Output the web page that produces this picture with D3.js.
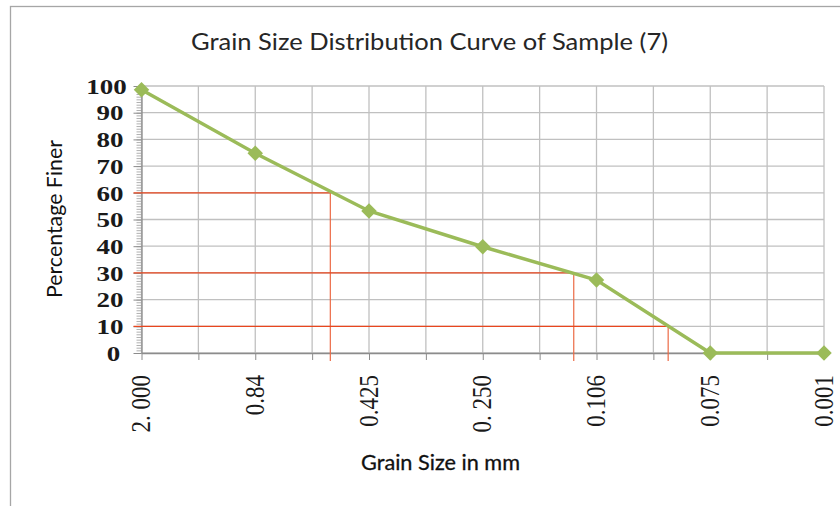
<!DOCTYPE html>
<html>
<head>
<meta charset="utf-8">
<script src="https://cdn.jsdelivr.net/npm/d3@7"></script>
<style>
  body { margin: 0; background: #fff; }
</style>
</head>
<body>
<script>
// grain sizes (category labels, as printed) and percent finer
var sizes = ["2. 000", "0.84", "0.425", "0. 250", "0.106", "0.075", "0.001"];
var finer = [98.6, 74.8, 53.2, 39.8, 27.3, 0, 0];
var yTicks = [0, 10, 20, 30, 40, 50, 60, 70, 80, 90, 100];

// D60 / D30 / D10 guide lines: percent value and where they meet the curve (category index)
var guideValues = [60, 30, 10];
var guideAt = [1.66, 3.80, 4.63];

var svg = d3.select('body').append('svg')
  .attr('width', 840)
  .attr('height', 506);

var x = d3.scaleLinear().domain([0, sizes.length - 1]).range([141.5, 824]);
var y = d3.scaleLinear().domain([0, 100]).range([353, 86]);

// outer chart frame
svg.append('rect')
  .attr('x', 10.5)
  .attr('y', 6.5)
  .attr('width', 840)
  .attr('height', 510)
  .attr('fill', '#fff')
  .attr('stroke', '#a6a6a6')
  .attr('stroke-width', 1.3);

// grid
var half = d3.range(0, sizes.length - 0.5, 0.5);

svg.append('g').selectAll('line.v')
  .data(half)
  .enter().append('line')
  .attr('x1', d => x(d))
  .attr('x2', d => x(d))
  .attr('y1', y(100))
  .attr('y2', y(0))
  .attr('stroke', '#c0c0c0')
  .attr('stroke-width', 1.3);

svg.append('g').selectAll('line.h')
  .data(yTicks)
  .enter().append('line')
  .attr('x1', x(0))
  .attr('x2', x(sizes.length - 1))
  .attr('y1', d => y(d))
  .attr('y2', d => y(d))
  .attr('stroke', '#c0c0c0')
  .attr('stroke-width', 1.3);

// y axis: major + minor ticks
var yMinor = svg.append('g')
  .attr('transform', 'translate(' + x(0) + ',0)')
  .call(d3.axisLeft(y).tickValues(d3.range(0, 101, 1)).tickSize(5).tickSizeOuter(0).tickFormat(''));
yMinor.selectAll('line').attr('stroke', '#b0b0b0');
yMinor.select('.domain').remove();

var yAxis = svg.append('g')
  .attr('transform', 'translate(' + x(0) + ',0)')
  .call(d3.axisLeft(y).tickValues(yTicks).tickSize(8).tickSizeOuter(0));
yAxis.select('.domain').attr('stroke', '#8c8c8c').attr('stroke-width', 1.3);
yAxis.selectAll('line').attr('stroke', '#8c8c8c');
yAxis.selectAll('text')
  .attr('x', function(d) {
    var n = String(d).length;
    return (117 - 3.5 * n) - x(0) - n * 13.5 / 2;
  })
  .attr('dy', '0.36em')
  .attr('text-anchor', 'start')
  .attr('font-family', '"Liberation Serif", "Times New Roman", serif')
  .attr('font-weight', 'bold')
  .attr('font-size', 20)
  .attr('fill', '#1a1a1a')
  .attr('textLength', d => String(d).length * 13.5)
  .attr('lengthAdjust', 'spacingAndGlyphs');

// x axis ticks at every half step
var xAxis = svg.append('g')
  .attr('transform', 'translate(0,' + y(0) + ')')
  .call(d3.axisBottom(x).tickValues(half).tickSize(7).tickSizeOuter(0).tickFormat(''));
xAxis.select('.domain').attr('stroke', '#8c8c8c').attr('stroke-width', 1.3);
xAxis.selectAll('line').attr('stroke', '#8c8c8c');

// category labels, rotated
svg.append('g').selectAll('text')
  .data(sizes)
  .enter().append('text')
  .attr('transform', (d, i) => 'translate(' + x(i) + ',375) rotate(-90) scale(1,1.15)')
  .attr('dy', '0.33em')
  .attr('text-anchor', 'end')
  .attr('font-family', '"Liberation Serif", "Times New Roman", serif')
  .attr('font-size', 23)
  .attr('fill', '#1a1a1a')
  .text(d => d);

// guide lines
guideValues.forEach(function(v, i) {
  svg.append('line')
    .attr('x1', x(0) - 8)
    .attr('x2', x(guideAt[i]))
    .attr('y1', y(v))
    .attr('y2', y(v))
    .attr('stroke', '#e8461e')
    .attr('stroke-width', 1.2);
  svg.append('line')
    .attr('x1', x(guideAt[i]))
    .attr('x2', x(guideAt[i]))
    .attr('y1', y(v))
    .attr('y2', y(0) + 8)
    .attr('stroke', '#ec6a45')
    .attr('stroke-width', 1.2);
});

// curve
var line = d3.line()
  .x((d, i) => x(i))
  .y(d => y(d));

svg.append('path')
  .datum(finer)
  .attr('d', line)
  .attr('fill', 'none')
  .attr('stroke', '#9bbb59')
  .attr('stroke-width', 3.5);

svg.append('g').selectAll('path')
  .data(finer)
  .enter().append('path')
  .attr('d', d3.symbol().type(d3.symbolSquare).size(120))
  .attr('transform', (d, i) => 'translate(' + x(i) + ',' + y(d) + ') rotate(45)')
  .attr('fill', '#9bbb59');

// titles
svg.append('text')
  .attr('x', 191)
  .attr('y', 50)
  .attr('font-family', 'Lato, "Open Sans", sans-serif')
  .attr('font-size', 23)
  .attr('fill', '#262626')
  .attr('textLength', 477)
  .attr('lengthAdjust', 'spacingAndGlyphs')
  .text('Grain Size Distribution Curve of Sample (7)');

svg.append('text')
  .attr('x', 361)
  .attr('y', 470)
  .attr('font-family', 'Lato, "Open Sans", sans-serif')
  .attr('font-size', 21)
  .attr('fill', '#111')
  .attr('stroke', '#111')
  .attr('stroke-width', 0.3)
  .attr('textLength', 159)
  .attr('lengthAdjust', 'spacingAndGlyphs')
  .text('Grain Size in mm');

svg.append('text')
  .attr('x', -219)
  .attr('y', 62)
  .attr('transform', 'rotate(-90)')
  .attr('font-family', 'Lato, "Open Sans", sans-serif')
  .attr('font-size', 21)
  .attr('fill', '#111')
  .attr('text-anchor', 'start')
  .attr('dx', -79)
  .attr('textLength', 158)
  .attr('lengthAdjust', 'spacingAndGlyphs')
  .text('Percentage Finer');
</script>
</body>
</html>
